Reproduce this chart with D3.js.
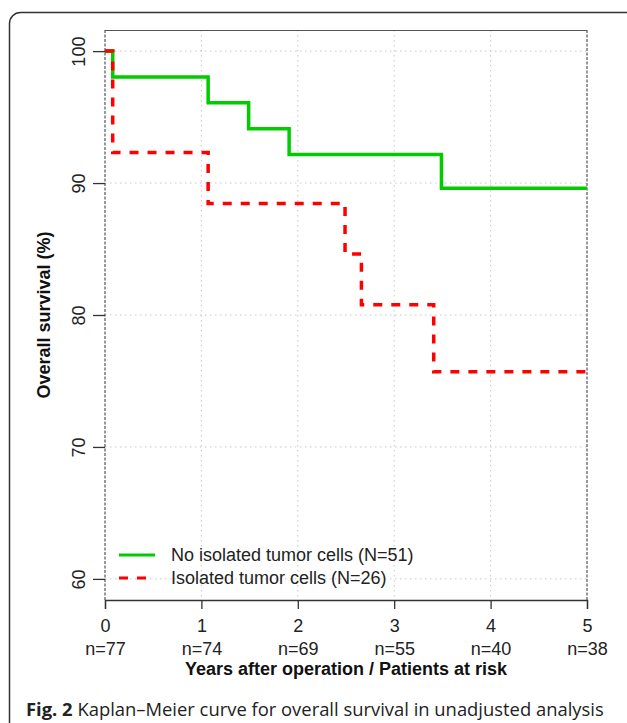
<!DOCTYPE html>
<html>
<head>
<meta charset="utf-8">
<script src="https://cdn.jsdelivr.net/npm/d3@7"></script>
<style>
  body { margin: 0; background: #fff; }
  svg { display: block; }
</style>
</head>
<body>
<svg id="chart" width="627" height="723"></svg>
<script>
// follow-up years and survival (%) for each group
var noItcTimes = [0, 0.08, 1.07, 1.49, 1.91, 3.49, 5];
var noItcSurv = [100, 98.04, 96.08, 94.12, 92.16, 89.6, 89.6];
var itcTimes = [0, 0.08, 1.07, 2.49, 2.66, 3.41, 5];
var itcSurv = [100, 92.31, 88.46, 84.62, 80.77, 75.7, 75.7];

var xTicks = [0, 1, 2, 3, 4, 5];
var atRisk = ["n=77", "n=74", "n=69", "n=55", "n=40", "n=38"];
var yTicks = [60, 70, 80, 90, 100];
var legendLabels = ["No isolated tumor cells (N=51)", "Isolated tumor cells (N=26)"];

var font = "Liberation Sans, Arial, sans-serif";

var svg = d3.select("#chart"),
    margin = { top: 30, right: 40, bottom: 123, left: 105 },
    width = +svg.attr("width") - margin.left - margin.right,
    height = +svg.attr("height") - margin.top - margin.bottom;

// figure frame
svg.append("rect")
    .attr("x", 9.5).attr("y", 12.5)
    .attr("width", 640).attr("height", 740)
    .attr("rx", 11)
    .attr("fill", "none")
    .attr("stroke", "#333")
    .attr("stroke-width", 1.5);

var g = svg.append("g").attr("transform", "translate(" + margin.left + "," + margin.top + ")");

var x = d3.scaleLinear().domain([0, 5]).range([0, width]);
var y = d3.scaleLinear().domain([58.4, 101.6]).range([height, 0]);

// grid
g.selectAll(".vgrid")
    .data(xTicks.slice(1, -1))
    .enter().append("line")
    .attr("x1", function (d) { return x(d); })
    .attr("x2", function (d) { return x(d); })
    .attr("y1", 0).attr("y2", height)
    .attr("stroke", "#c8c8c8")
    .attr("stroke-dasharray", "1.5,3.5");

g.selectAll(".hgrid")
    .data(yTicks)
    .enter().append("line")
    .attr("x1", 0).attr("x2", width)
    .attr("y1", function (d) { return y(d); })
    .attr("y2", function (d) { return y(d); })
    .attr("stroke", "#c8c8c8")
    .attr("stroke-dasharray", "1.5,3.5");

// plot border
g.append("line")
    .attr("x1", 0).attr("x2", width).attr("y1", 0.5).attr("y2", 0.5)
    .attr("stroke", "#555").attr("stroke-width", 1.2);
[0, width].forEach(function (px) {
    g.append("line")
        .attr("x1", px).attr("x2", px).attr("y1", 0).attr("y2", height)
        .attr("stroke", "#555").attr("stroke-width", 1.2)
        .attr("stroke-dasharray", "3,1.5");
});

// x axis with patients at risk
var xAxis = g.append("g")
    .attr("transform", "translate(0," + height + ")")
    .attr("font-family", font)
    .attr("font-size", 18)
    .call(d3.axisBottom(x).tickValues(xTicks).tickFormat(d3.format("d")).tickSize(9).tickPadding(12));
xAxis.attr("font-family", font).attr("font-size", 18);
xAxis.select(".domain").attr("stroke", "#333").attr("stroke-width", 1.3);
xAxis.selectAll(".tick line").attr("stroke", "#333").attr("stroke-width", 1.3);
xAxis.selectAll(".tick text").attr("fill", "#222").attr("y", 19);
xAxis.selectAll(".tick")
    .append("text")
    .attr("fill", "#222")
    .attr("y", 55)
    .text(function (d, i) { return atRisk[i]; });

g.append("text")
    .attr("x", width / 2)
    .attr("y", height + 75)
    .attr("text-anchor", "middle")
    .attr("font-family", font)
    .attr("font-weight", "bold")
    .attr("font-size", "18px")
    .attr("fill", "#111")
    .text("Years after operation / Patients at risk");

// y axis
var yAxis = g.append("g")
    .call(d3.axisLeft(y).tickValues(yTicks).tickSize(12).tickPadding(8));
yAxis.attr("font-family", font).attr("font-size", 18);
yAxis.select(".domain").remove();
yAxis.selectAll(".tick line").attr("stroke", "#333").attr("stroke-width", 1.3);
yAxis.selectAll(".tick text")
    .attr("fill", "#222")
    .attr("transform", "rotate(-90)")
    .attr("x", 0).attr("y", -20)
    .attr("dy", 0)
    .attr("text-anchor", "middle");

g.append("text")
    .attr("transform", "rotate(-90)")
    .attr("x", -height / 2)
    .attr("y", -55)
    .attr("text-anchor", "middle")
    .attr("font-family", font)
    .attr("font-weight", "bold")
    .attr("font-size", "18px")
    .attr("fill", "#111")
    .text("Overall survival (%)");

// survival curves
var line = d3.line()
    .curve(d3.curveStepAfter)
    .x(function (d) { return x(d[0]); })
    .y(function (d) { return y(d[1]); });

g.append("path")
    .datum(d3.zip(noItcTimes, noItcSurv))
    .attr("fill", "none")
    .attr("stroke", "#00cc00")
    .attr("stroke-width", 3.5)
    .attr("d", line);

g.append("path")
    .datum(d3.zip(itcTimes, itcSurv))
    .attr("fill", "none")
    .attr("stroke", "#ff0000")
    .attr("stroke-width", 3.5)
    .attr("stroke-dasharray", "9,9")
    .attr("d", line);

// legend
var legend = g.selectAll(".legend")
    .data(legendLabels)
    .enter().append("g")
    .attr("transform", function (d, i) { return "translate(14," + (525 + i * 23) + ")"; });

legend.append("line")
    .attr("x1", 0).attr("x2", 36)
    .attr("stroke", function (d, i) { return i === 0 ? "#00cc00" : "#ff0000"; })
    .attr("stroke-width", 3)
    .attr("stroke-dasharray", function (d, i) { return i === 0 ? null : "9,9"; });

legend.append("text")
    .attr("x", 52)
    .attr("dy", "0.35em")
    .attr("font-family", font)
    .attr("font-size", "18px")
    .attr("fill", "#222")
    .text(function (d) { return d; });

// caption
var cap = svg.append("text")
    .attr("x", 26)
    .attr("y", 716)
    .attr("font-family", "Open Sans, sans-serif")
    .attr("font-size", "18.4px")
    .attr("fill", "#222");
cap.append("tspan").attr("font-weight", "bold").text("Fig. 2");
cap.append("tspan").text(" Kaplan\u2013Meier curve for overall survival in unadjusted analysis");
</script>
</body>
</html>
